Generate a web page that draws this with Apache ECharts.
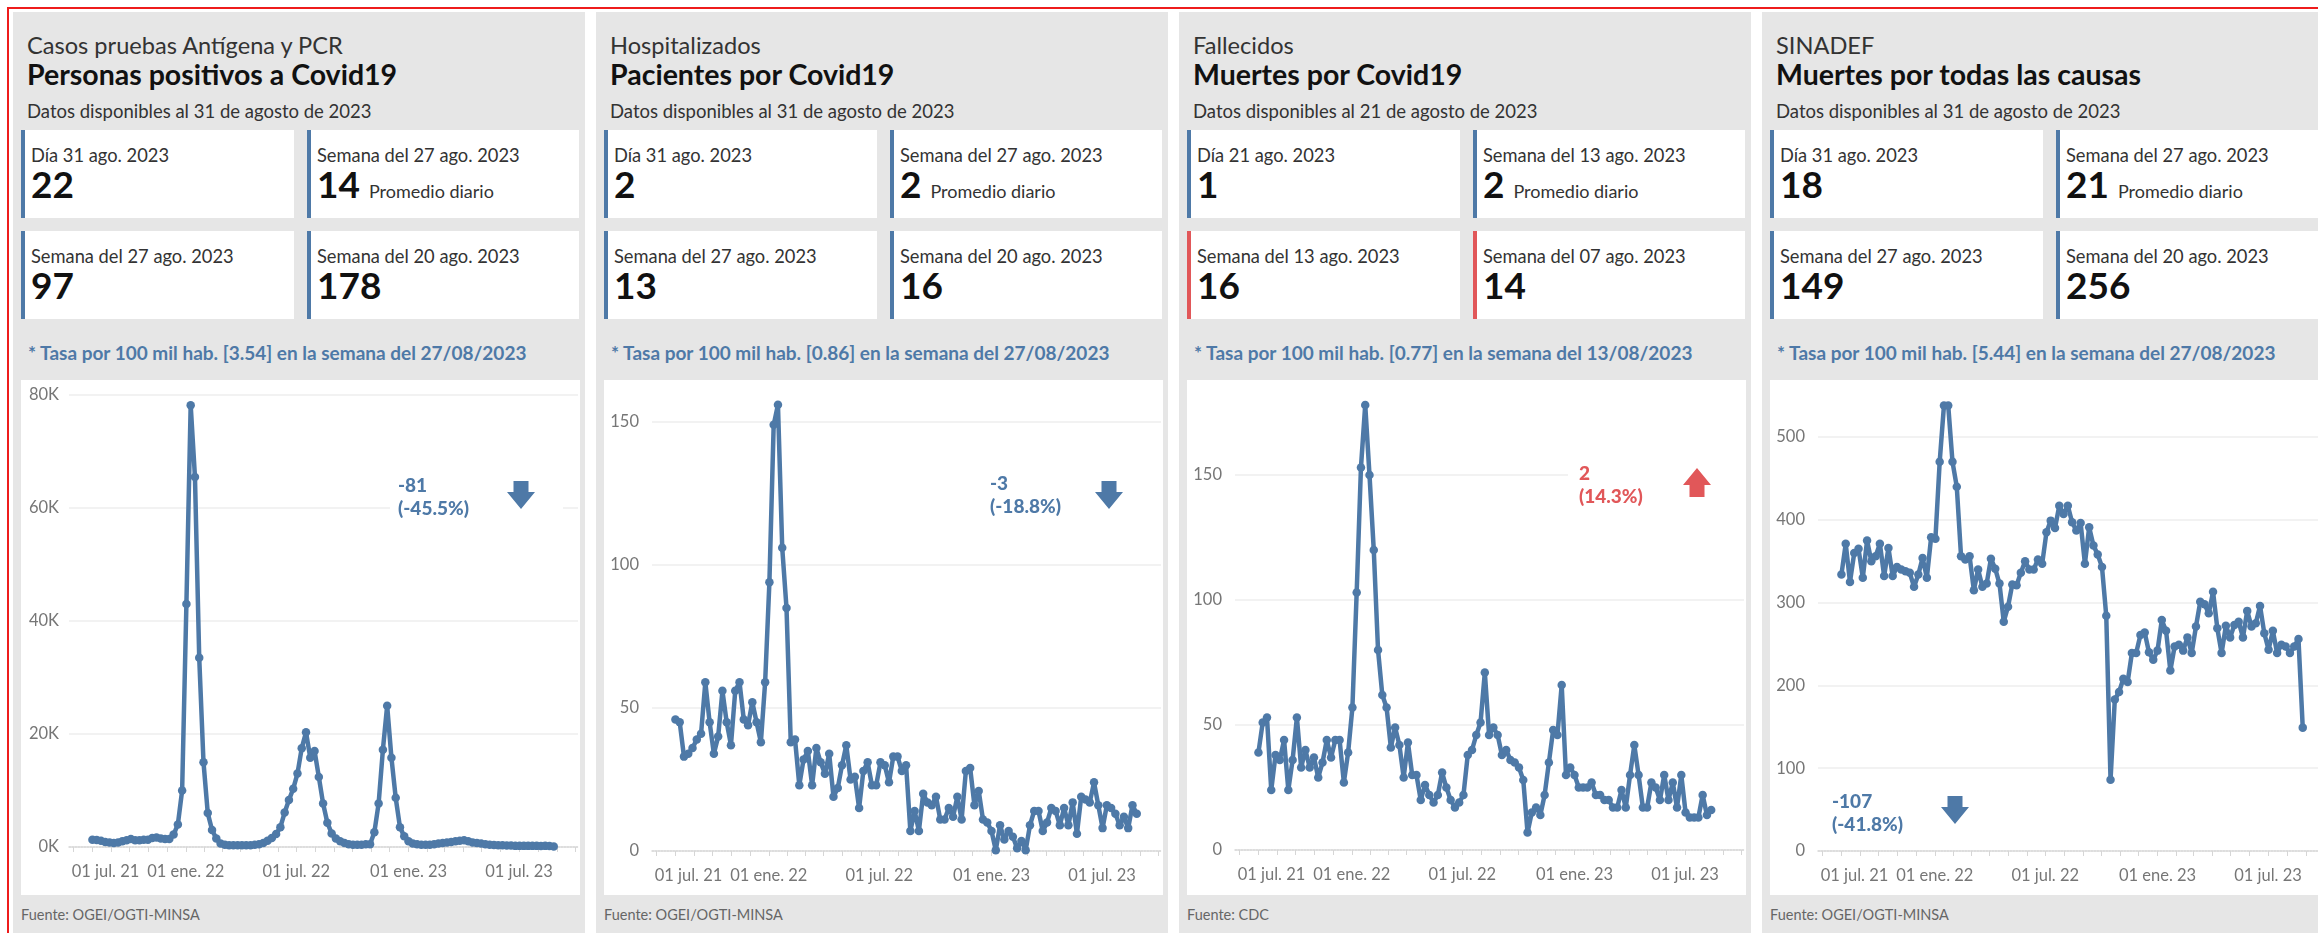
<!DOCTYPE html>
<html>
<head>
<meta charset="utf-8">
<script src="https://cdn.jsdelivr.net/npm/echarts@6/dist/echarts.min.js"></script>
<style>
  body { margin: 0; width: 2318px; height: 933px; overflow: hidden; background: #fff; font-family: Lato, 'Open Sans', sans-serif; position: relative; }
  .toptitle { position: absolute; left: 634px; top: -34px; font-size: 37px; line-height: 40px; font-weight: 700; color: #595959; white-space: nowrap; }
  .frame { position: absolute; left: 7px; top: 7px; width: 2400px; height: 1000px; border-top: 2px solid #ee1c1c; border-left: 2px solid #ee1c1c; }
  .panel { position: absolute; top: 12px; width: 572px; height: 940px; background: #e6e6e6; }
  .sup { position: absolute; left: 14px; top: 21px; font-size: 23.6px; line-height: 24px; color: #333; white-space: nowrap; }
  .ttl { position: absolute; left: 14px; top: 46px; font-size: 28.5px; line-height: 32px; font-weight: 700; color: #111; white-space: nowrap; }
  .fecha { position: absolute; left: 14px; top: 89px; font-size: 18.5px; line-height: 20px; color: #333; white-space: nowrap; }
  .kpi { position: absolute; height: 88px; background: #fff; border-left: 4px solid #4e79a7; box-sizing: border-box; }
  .kpi.red { border-left-color: #e15759; }
  .kpi .lab { position: absolute; left: 6px; top: 15px; font-size: 18.3px; line-height: 20px; color: #333; white-space: nowrap; }
  .kpi .val { position: absolute; left: 6px; top: 34px; font-size: 37px; line-height: 40px; font-weight: 700; color: #111; white-space: nowrap; }
  .kpi .val span { font-size: 18px; font-weight: 400; color: #333; margin-left: 9px; }
  .tasa { position: absolute; left: 15px; top: 331px; font-size: 19px; line-height: 20px; font-weight: 700; color: #4e79a7; white-space: nowrap; }
  .chart { position: absolute; left: 8px; top: 368px; width: 559px; height: 515px; background: #fff; }
  .fuente { position: absolute; left: 8px; top: 894px; font-size: 14.5px; line-height: 18px; color: #666; white-space: nowrap; }
</style>
</head>
<body>
<div class="toptitle">Resumen de la situación actual de la COVID-19 en el Perú</div>
<div class="frame"></div>

<div class="panel" style="left:13px">
  <div class="sup">Casos pruebas Antígena y PCR</div>
  <div class="ttl">Personas positivos a Covid19</div>
  <div class="fecha">Datos disponibles al 31 de agosto de 2023</div>
  <div class="kpi" style="left:8px;top:118px;width:273px"><div class="lab">Día 31 ago. 2023</div><div class="val">22</div></div>
  <div class="kpi" style="left:294px;top:118px;width:272px"><div class="lab">Semana del 27 ago. 2023</div><div class="val">14<span>Promedio diario</span></div></div>
  <div class="kpi" style="left:8px;top:219px;width:273px"><div class="lab">Semana del 27 ago. 2023</div><div class="val">97</div></div>
  <div class="kpi" style="left:294px;top:219px;width:272px"><div class="lab">Semana del 20 ago. 2023</div><div class="val">178</div></div>
  <div class="tasa">* Tasa por 100 mil hab. [3.54] en la semana del 27/08/2023</div>
  <div class="chart" id="c1"></div>
  <div class="fuente">Fuente: OGEI/OGTI-MINSA</div>
</div>

<div class="panel" style="left:596px">
  <div class="sup">Hospitalizados</div>
  <div class="ttl">Pacientes por Covid19</div>
  <div class="fecha">Datos disponibles al 31 de agosto de 2023</div>
  <div class="kpi" style="left:8px;top:118px;width:273px"><div class="lab">Día 31 ago. 2023</div><div class="val">2</div></div>
  <div class="kpi" style="left:294px;top:118px;width:272px"><div class="lab">Semana del 27 ago. 2023</div><div class="val">2<span>Promedio diario</span></div></div>
  <div class="kpi" style="left:8px;top:219px;width:273px"><div class="lab">Semana del 27 ago. 2023</div><div class="val">13</div></div>
  <div class="kpi" style="left:294px;top:219px;width:272px"><div class="lab">Semana del 20 ago. 2023</div><div class="val">16</div></div>
  <div class="tasa">* Tasa por 100 mil hab. [0.86] en la semana del 27/08/2023</div>
  <div class="chart" id="c2"></div>
  <div class="fuente">Fuente: OGEI/OGTI-MINSA</div>
</div>

<div class="panel" style="left:1179px">
  <div class="sup">Fallecidos</div>
  <div class="ttl">Muertes por Covid19</div>
  <div class="fecha">Datos disponibles al 21 de agosto de 2023</div>
  <div class="kpi" style="left:8px;top:118px;width:273px"><div class="lab">Día 21 ago. 2023</div><div class="val">1</div></div>
  <div class="kpi" style="left:294px;top:118px;width:272px"><div class="lab">Semana del 13 ago. 2023</div><div class="val">2<span>Promedio diario</span></div></div>
  <div class="kpi red" style="left:8px;top:219px;width:273px"><div class="lab">Semana del 13 ago. 2023</div><div class="val">16</div></div>
  <div class="kpi red" style="left:294px;top:219px;width:272px"><div class="lab">Semana del 07 ago. 2023</div><div class="val">14</div></div>
  <div class="tasa">* Tasa por 100 mil hab. [0.77] en la semana del 13/08/2023</div>
  <div class="chart" id="c3"></div>
  <div class="fuente">Fuente: CDC</div>
</div>

<div class="panel" style="left:1762px">
  <div class="sup">SINADEF</div>
  <div class="ttl">Muertes por todas las causas</div>
  <div class="fecha">Datos disponibles al 31 de agosto de 2023</div>
  <div class="kpi" style="left:8px;top:118px;width:273px"><div class="lab">Día 31 ago. 2023</div><div class="val">18</div></div>
  <div class="kpi" style="left:294px;top:118px;width:272px"><div class="lab">Semana del 27 ago. 2023</div><div class="val">21<span>Promedio diario</span></div></div>
  <div class="kpi" style="left:8px;top:219px;width:273px"><div class="lab">Semana del 27 ago. 2023</div><div class="val">149</div></div>
  <div class="kpi" style="left:294px;top:219px;width:272px"><div class="lab">Semana del 20 ago. 2023</div><div class="val">256</div></div>
  <div class="tasa">* Tasa por 100 mil hab. [5.44] en la semana del 27/08/2023</div>
  <div class="chart" id="c4"></div>
  <div class="fuente">Fuente: OGEI/OGTI-MINSA</div>
</div>

<script>
// weekly series, first week starts Sunday 01 Aug 2021
const firstWeek = Date.UTC(2021, 7, 1);

const casosSemana = [
  1300, 1250, 1100, 900, 800, 700, 800, 1000, 1200, 1400,
  1200, 1200, 1300, 1300, 1600, 1700, 1500, 1400, 1400, 2200,
  4000, 10000, 43000, 78200, 65500, 33500, 15000, 6000, 3000, 1500,
  600, 400, 300, 300, 300, 300, 300, 300, 400, 500,
  700, 1100, 1600, 2300, 3500, 6100, 8300, 10300, 13000, 17500,
  20300, 15800, 17000, 12400, 7700, 4300, 2400, 1500, 1000, 700,
  500, 400, 400, 400, 500, 500, 2600, 7700, 17200, 25000,
  15800, 8700, 3500, 1900, 1000, 600, 500, 400, 400, 400,
  500, 600, 700, 800, 900, 1000, 1100, 1200, 1000, 800,
  700, 600, 500, 400, 350, 300, 300, 250, 250, 200,
  200, 200, 200, 200, 200, 180, 200, 178, 97
];

const hospSemana = [
  46, 45, 33, 34, 36, 39, 41, 59, 45, 34,
  40, 56, 45, 37, 56, 59, 46, 44, 52, 45,
  38, 59, 94, 149, 156, 106, 85, 38, 39, 23,
  32, 35, 23, 36, 31, 27, 34, 19, 22, 30,
  37, 25, 26, 15, 28, 31, 23, 23, 31, 30,
  24, 33, 33, 28, 30, 7, 14, 7, 20, 17,
  16, 19, 11, 11, 15, 12, 19, 11, 28, 29,
  16, 21, 11, 10, 7, 0.3, 9, 4, 7, 5,
  1, 3.5, 0.3, 9, 14, 14, 7, 10, 15, 14,
  9, 15, 9, 17, 6, 19, 18, 17, 24, 16,
  8, 16, 15, 13, 9, 12, 8, 16, 13
];

const muertesSemana = [
  39, 51, 53, 24, 38, 36, 44, 24, 36, 53,
  33, 40, 33, 37, 29, 35, 44, 37, 44, 44,
  27, 39, 57, 103, 153, 178, 150, 120, 80, 62,
  57, 41, 49, 42, 29, 43, 30, 30, 20, 26,
  22, 19, 22, 31, 25, 20, 17, 19, 22, 38,
  40, 46, 51, 71, 46, 49, 46, 38, 40, 36,
  35, 33, 28, 7, 15, 17, 14, 22, 35, 48,
  46, 66, 30, 33, 30, 25, 25, 25, 27, 22,
  22, 20, 20, 17, 17, 24, 17, 30, 42, 30,
  17, 17, 27, 25, 20, 30, 20, 27, 17, 30,
  15, 13, 13, 13, 22, 14, 16
];

const sinadefSemana = [
  334, 371, 325, 360, 365, 330, 375, 350, 356, 371,
  332, 366, 332, 343, 340, 338, 336, 319, 334, 354,
  330, 379, 377, 470, 538, 538, 470, 440, 356, 352,
  356, 315, 340, 319, 323, 353, 341, 323, 277, 295,
  322, 321, 336, 350, 340, 340, 352, 347, 385, 399,
  390, 417, 407, 417, 397, 387, 396, 347, 391, 369,
  358, 343, 284, 86, 183, 192, 208, 204, 239, 239,
  261, 264, 240, 231, 242, 279, 266, 218, 247, 249,
  242, 258, 239, 271, 301, 298, 287, 313, 269, 239,
  272, 258, 273, 277, 258, 290, 271, 275, 296, 263,
  243, 266, 239, 249, 247, 239, 247, 256, 149
];

// x axis: labels every half year, ticks every month
const labelDates = [[2021, 6], [2022, 0], [2022, 6], [2023, 0], [2023, 6]];
const meses = ['ene.', 'feb.', 'mar.', 'abr.', 'may.', 'jun.', 'jul.', 'ago.', 'sep.', 'oct.', 'nov.', 'dic.'];
const xMin = Date.UTC(2021, 5, 23, 14);
const xMax = Date.UTC(2023, 9, 5, 18);

const labelValues = labelDates.map(d => Date.UTC(d[0], d[1], 1));
const monthTicks = [];
for (let m = 0; m < 28; m++) monthTicks.push(Date.UTC(2021, 6 + m, 1));

const BLUE = '#4e79a7';
const RED = '#e15759';
const AXIS_TXT = '#767676';

function weekly(values) {
  return values.map((v, i) => [firstWeek + i * 7 * 864e5, v]);
}

function arrow(x, y, dir, color) {
  const pts = dir === 'down'
    ? [[x + 6.5, y], [x + 21.5, y], [x + 21.5, y + 11], [x + 28, y + 11], [x + 14, y + 28], [x, y + 11], [x + 6.5, y + 11]]
    : [[x + 14, y], [x + 28, y + 17], [x + 21.5, y + 17], [x + 21.5, y + 29], [x + 6.5, y + 29], [x + 6.5, y + 17], [x, y + 17]];
  return { type: 'polygon', z: 20, shape: { points: pts }, style: { fill: color } };
}

// change vs previous week, shown as a title block
function note(x, y, lines, color) {
  return {
    text: lines.join('\n'), left: x, top: y - 12, padding: 0, z: 30,
    textStyle: { color: color, fontFamily: 'Lato', fontSize: 19, fontWeight: 900, lineHeight: 23 }
  };
}

const charts = [
  { id: 'c1', data: casosSemana, max: 80000, interval: 20000, top: 15, bottom: 48, labMargin: 10,
    fmt: v => (v / 1000) + 'K',
    title: note(377, 106, ['-81', '(-45.5%)'], BLUE),
    graphic: [{ type: 'rect', z: 15, shape: { x: 369, y: 95, width: 173, height: 45 }, style: { fill: '#fff' } },
      arrow(486, 101, 'down', BLUE)] },
  { id: 'c2', data: hospSemana, max: 150, interval: 50, top: 42, bottom: 44, labMargin: 13,
    fmt: v => String(v),
    title: note(386, 104, ['-3', '(-18.8%)'], BLUE),
    graphic: [arrow(491, 101, 'down', BLUE)] },
  { id: 'c3', data: muertesSemana, max: 150, interval: 50, top: 95, bottom: 45, labMargin: 13,
    fmt: v => String(v),
    title: note(392, 94, ['2', '(14.3%)'], RED),
    graphic: [{ type: 'rect', z: 15, shape: { x: 381, y: 80, width: 176, height: 45 }, style: { fill: '#fff' } },
      arrow(496, 88, 'up', RED)] },
  { id: 'c4', data: sinadefSemana, max: 500, interval: 100, top: 57, bottom: 44, labMargin: 13,
    fmt: v => String(v),
    title: note(62, 422, ['-107', '(-41.8%)'], BLUE),
    graphic: [arrow(171, 416, 'down', BLUE)] }
];

function fechaLabel(v) {
  const d = new Date(v);
  const s = '01 ' + meses[d.getUTCMonth()] + ' ' + String(d.getUTCFullYear()).slice(2);
  return v === labelValues[0] ? '{first|' + s + '}' : s;
}

charts.forEach(cfg => {
  const chart = echarts.init(document.getElementById(cfg.id));
  chart.setOption({
    animation: false,
    backgroundColor: '#fff',
    title: cfg.title,
    grid: { left: 48, right: 2, top: cfg.top, bottom: cfg.bottom },
    xAxis: {
      type: 'value', min: xMin, max: xMax,
      axisLine: { show: true, lineStyle: { color: '#d6d6d6', type: 'dotted', width: 1.5 } },
      axisTick: { show: true, customValues: monthTicks, length: 5, lineStyle: { color: '#d6d6d6' } },
      axisLabel: {
        customValues: labelValues, color: AXIS_TXT, fontSize: 16.5, fontFamily: 'Lato', margin: 16,
        formatter: fechaLabel,
        rich: { first: { padding: [0, 0, 0, 64], color: AXIS_TXT, fontSize: 16.5, fontFamily: 'Lato' } }
      },
      splitLine: { show: false }
    },
    yAxis: {
      type: 'value', min: 0, max: cfg.max, interval: cfg.interval,
      axisLine: { show: false }, axisTick: { show: false },
      axisLabel: { formatter: cfg.fmt, color: AXIS_TXT, fontSize: 16.5, fontFamily: 'Lato', margin: cfg.labMargin },
      splitLine: { lineStyle: { color: '#eeeeee', width: 1.5 } }
    },
    series: [{
      type: 'line', data: weekly(cfg.data), clip: false,
      symbol: 'circle', symbolSize: 8.5, showSymbol: true,
      lineStyle: { color: BLUE, width: 4.5 },
      itemStyle: { color: BLUE }
    }],
    graphic: cfg.graphic
  });
});
</script>
</body>
</html>
